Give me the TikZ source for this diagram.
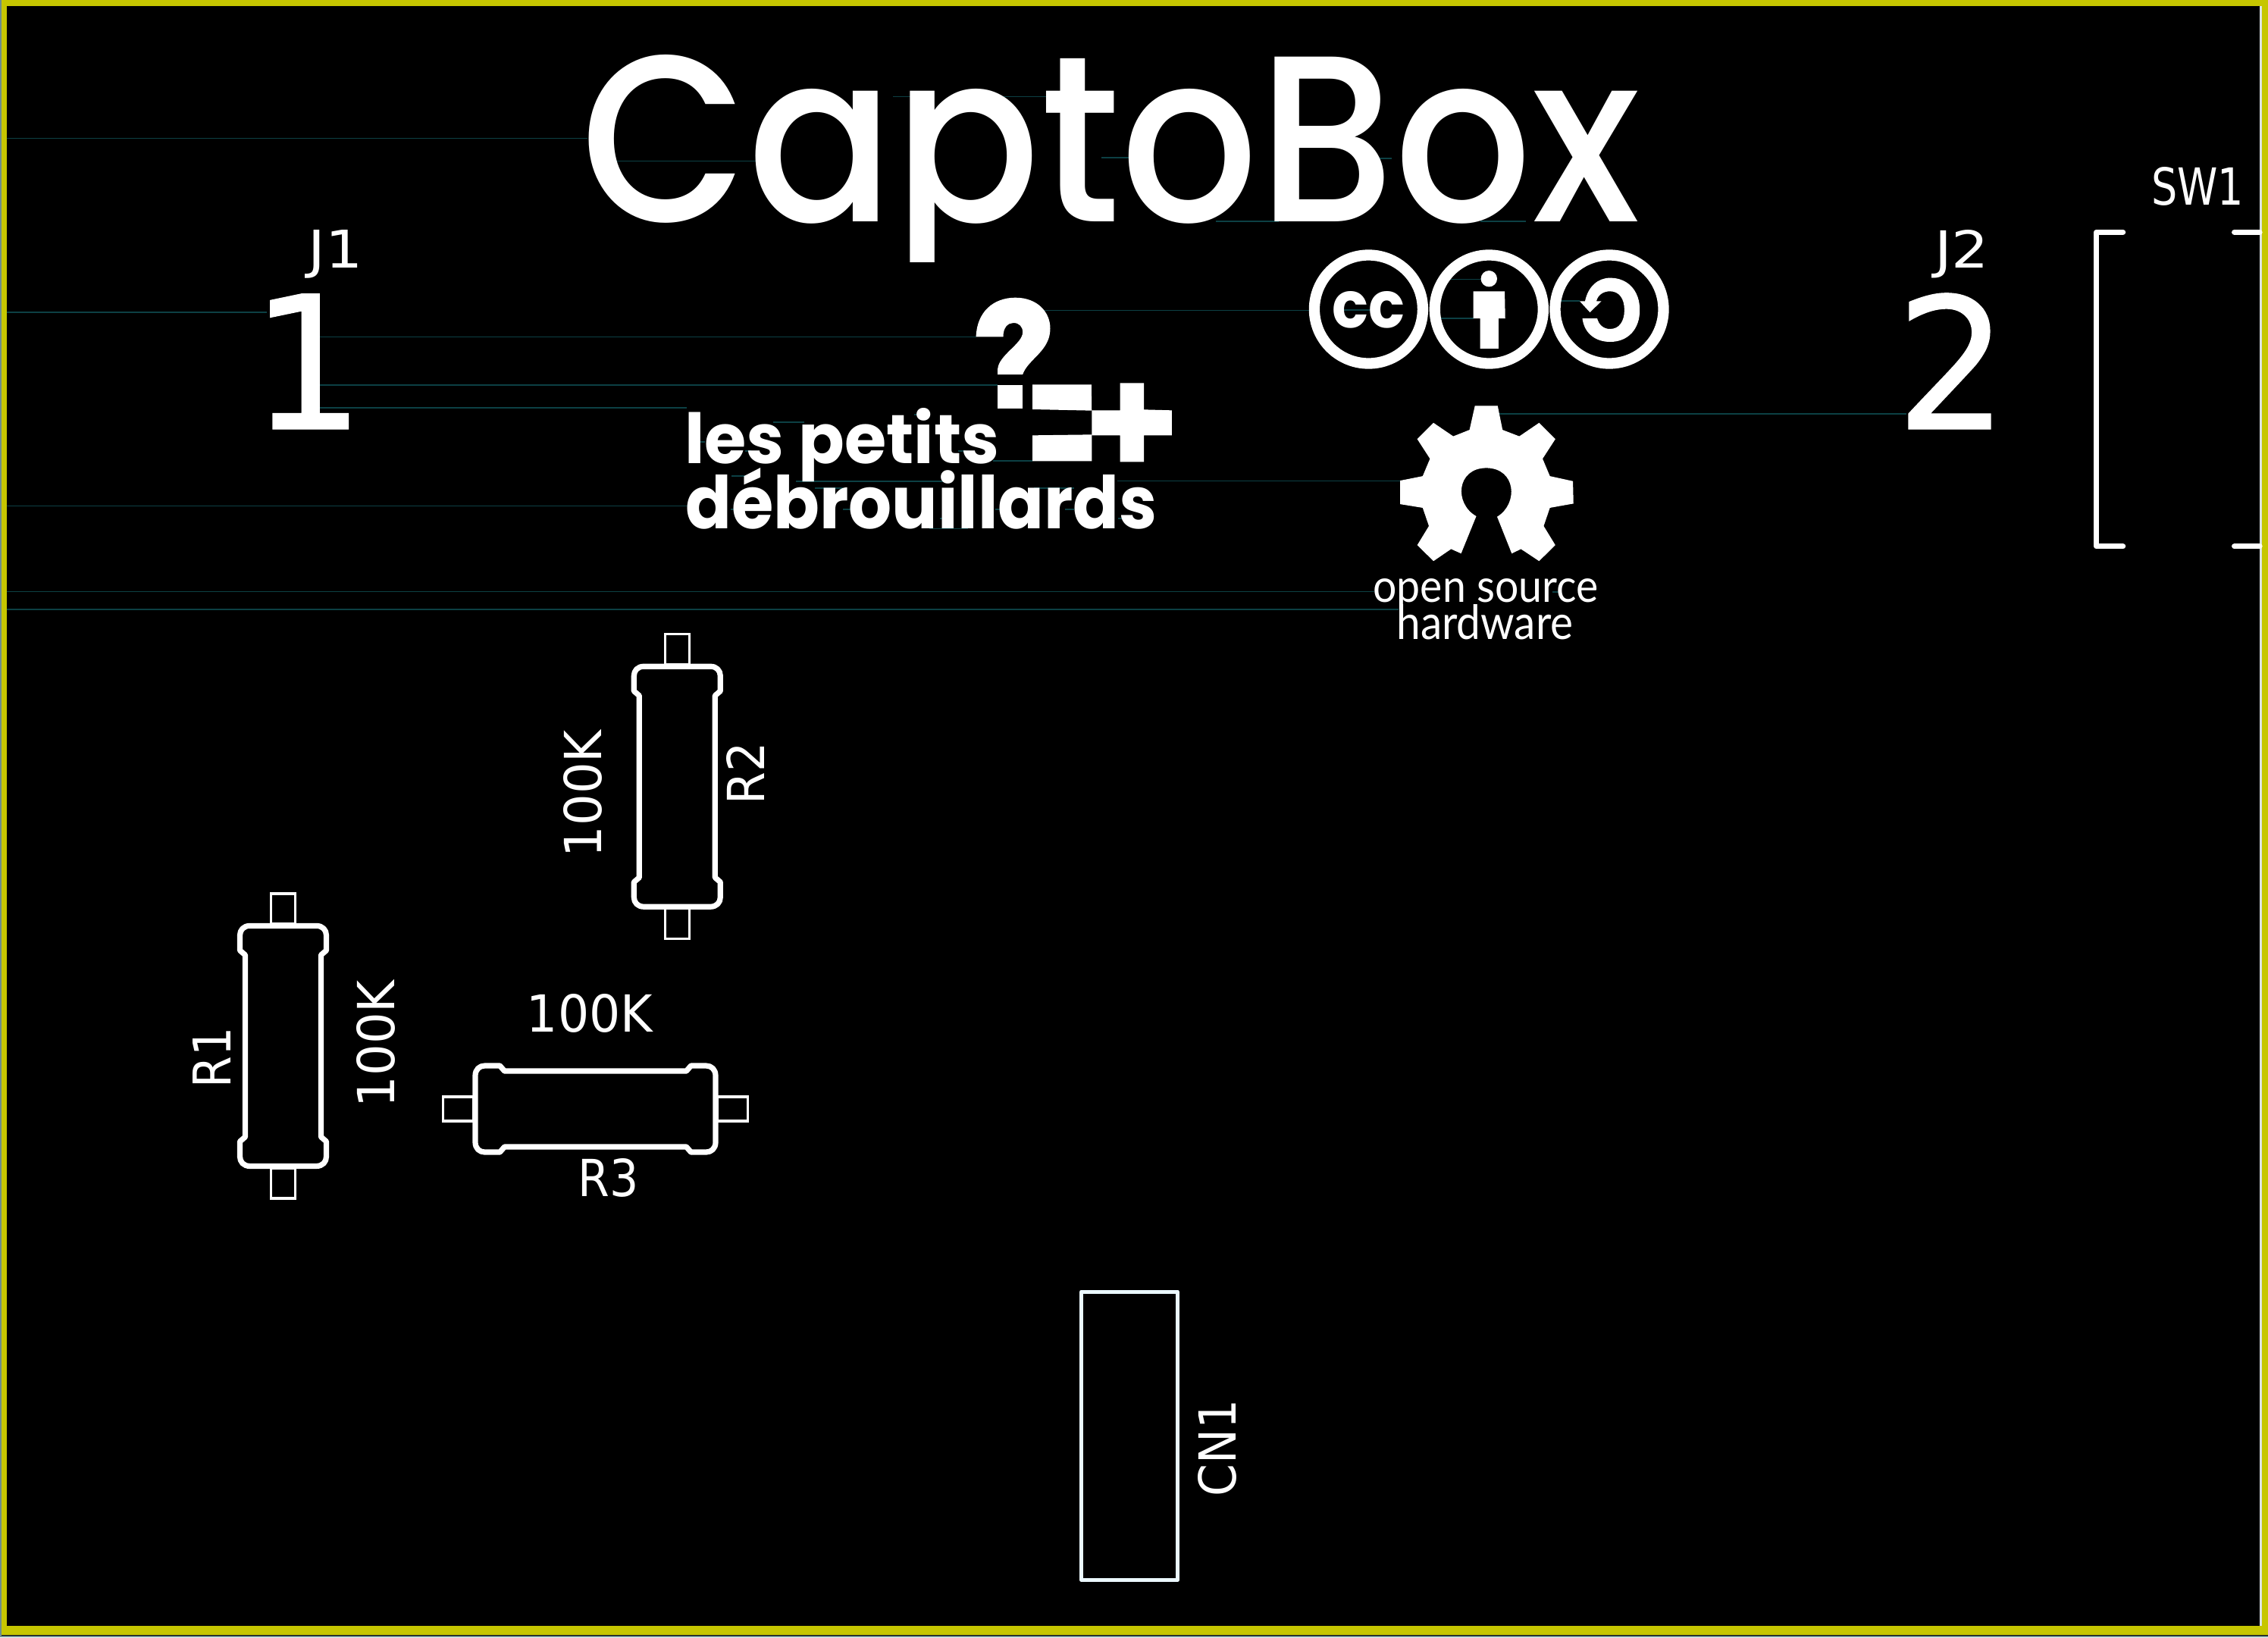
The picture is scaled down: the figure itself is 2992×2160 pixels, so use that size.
\documentclass[tikz,border=0pt]{standalone}
\usepackage{graphicx}
\usepackage{fontspec}
\newfontfamily\pop{Poppins}
\newfontfamily\popm{Poppins Medium}
\newfontfamily\djv{DejaVu Sans}
\newfontfamily\djb[FakeBold=0.6]{DejaVu Sans}
\newfontfamily\lat{Lato}
\definecolor{brd}{HTML}{C6C600}
\definecolor{trc}{HTML}{0C4044}
\tikzset{
  x=0.01cm,y=-0.01cm,
  lbl/.style={inner sep=0pt,outer sep=0pt,text=white,anchor=base},
  trace/.style={draw=trc,line width=0.16mm},
  silk/.style={draw=white,line width=0.72mm,line join=round,line cap=round},
  thinsilk/.style={draw=white,line width=0.34mm,line join=miter},
  logo/.style={fill=white,draw=none}
}
\newcommand{\fitt}[3]{\resizebox{#1cm}{#2cm}{#3}}
\newcommand{\resistor}[3]{%
  \begin{scope}[shift={(#1,#2)},rotate=#3]
    \draw[thinsilk] (-16,-201) rectangle (16,-161);
    \draw[thinsilk] (-16,161) rectangle (16,201);
    \draw[silk] (-44,-158.5) -- (44,-158.5) .. controls (52,-158.5) and (57,-153) .. (57,-146) -- (57,-126) -- (50,-120) -- (50,120) -- (57,126) -- (57,146) .. controls (57,153) and (52,158.5) .. (44,158.5) -- (-44,158.5) .. controls (-52,158.5) and (-57,153) .. (-57,146) -- (-57,126) -- (-50,120) -- (-50,-120) -- (-57,-126) -- (-57,-146) .. controls (-57,-153) and (-52,-158.5) .. (-44,-158.5) -- cycle;
  \end{scope}}
\begin{document}
\begin{tikzpicture}
\useasboundingbox (0,0) rectangle (2992,2160);
\fill[black] (0,0) rectangle (2992,2160);
% board edge
\fill[brd] (2,0) rectangle (2992,2157);
\fill[black] (9,8) rectangle (2984,2145);
\fill[trc!60!white] (0,0) rectangle (1.8,2160);
\fill[trc!60!white] (0,2158) rectangle (2992,2160);
\draw[draw=white!85!trc,line width=0.25mm] (2982.5,8) -- (2982.5,2145);
% traces
\foreach \yy/\a/\b in {182.3/9/775, 212.3/813/1006, 127.3/1178/1213, 127.3/1322/1400, 208/1453/1489, 209/1818/1836, 292/1604/1687, 292/1953/2013,
  411.8/9/352, 444.3/420/1288, 508.2/420/1316, 538.2/420/906, 667.6/9/907, 780.4/9/1813, 804/9/1845,
  409.3/1377/1727, 409/1762/1812, 368.4/1912/1954, 420/1900/1944, 397/2059/2084, 546/1978/2515, 634.5/1474/1847,
  556.7/1020/1061, 547/1206/1220, 562.7/1170/1189, 582.7/922/930, 595/983/991, 595/1264/1274, 608/1310/1362,
  628/965/988, 635/1050/1247, 644/1075/1112, 644/1364/1417, 672/964/974, 672/1112/1130, 672/1313/1323, 672/1405/1417,
  684/1240/1250, 684/1475/1485, 697.3/1226/1277, 781/2048/2060}
  {\draw[trace] (\a,\yy) -- (\b,\yy);}
% title
\node[lbl] (title) at (1465,292) {\fitt{13.95}{2.2}{\popm CaptoBox}};
\fill[black] (1200,346) rectangle (1270,390);
% la logo
\begin{scope}[shift={(850,340)},x=0.01cm/2.063,y=-0.01cm/3]
  \fill[logo] (903,313) .. controls (905,215) and (950,158) .. (1010,158) .. controls (1070,158) and (1105,215) .. (1105,280) .. controls (1105,370) and (1045,400) .. (1030,462) -- (962,462) -- (962,440) .. controls (965,385) and (1030,340) .. (1030,295) .. controls (1030,272) and (1020,258) .. (1005,258) .. controls (990,258) and (977,275) .. (977,313) -- cycle;
  \fill[logo] (962,505) rectangle (1030,598);
  \fill[logo] (1057,502) -- (1217,502) -- (1218,605) -- (1057,600) -- cycle;
  \fill[logo] (1057,703) -- (1218,700) -- (1218,805) -- (1057,805) -- cycle;
  \fill[logo] (1295,496) -- (1360,496) -- (1360,601) -- (1436,604) -- (1436,703) -- (1360,703) -- (1360,808) -- (1295,808) -- (1295,703) -- (1218,703) -- (1218,604) -- (1295,604) -- cycle;
\end{scope}
\node[lbl] (lp) at (1111,611) {\fitt{4.15}{0.73}{\pop\bfseries les petits}};
\node[lbl] (ld) at (1215.5,697) {\fitt{6.22}{0.80}{\pop\bfseries débrouillards}};
% cc logos
\foreach \cx in {1805.4,1964.3,2123}
  {\draw[draw=white,line width=1.43mm] (\cx,408) circle (71.5);}
\node[lbl] (cc) at (1805,432) {\fitt{0.96}{0.48}{\pop\bfseries cc}};
\fill[logo] (1964.3,367.7) circle (10.7);
\begin{scope}[shift={(1700,300)},x=0.01cm/2.8,y=-0.01cm/2.703]
  \fill[logo] (682,228) -- (798,228) -- (800,325) -- (775,325) -- (775,432) -- (707,432) -- (707,325) -- (682,325) -- cycle;
  % gear
  \fill[logo] (688,636) -- (772,636) -- (790,722) -- (852,745) -- (925,697) -- (985,755) -- (938,825) -- (965,887) -- (1050,905) -- (1052,985) -- (965,1000) -- (942,1065) -- (985,1133) -- (925,1190) -- (858,1147) -- (824,1163) -- (770,1032) .. controls (850,985) and (840,858) .. (730,858) .. controls (620,858) and (610,985) .. (693,1030) -- (637,1163) -- (600,1147) -- (535,1190) -- (475,1133) -- (518,1065) -- (495,1000) -- (412,987) -- (412,903) -- (495,887) -- (522,825) -- (475,755) -- (535,697) -- (608,745) -- (668,722) -- cycle;
\end{scope}
\fill[logo] (2087.5,420.2) .. controls (2090,440) and (2105,451) .. (2124,451) .. controls (2148,451) and (2163.2,434) .. (2163.2,409) .. controls (2163.2,384) and (2148,366.6) .. (2124,366.6) .. controls (2108,366.6) and (2095,378) .. (2091,397.3) -- (2083.9,397.3) -- (2097.5,412.1) -- (2112.5,397.3) -- (2106,397.3) .. controls (2108,389) and (2115,384.3) .. (2124,384.3) .. controls (2136,384.3) and (2142.9,394) .. (2142.9,409) .. controls (2142.9,424) and (2136,434) .. (2124,434) .. controls (2115,434) and (2109,428) .. (2107.1,420.2) -- cycle;
\node[lbl] (os) at (1960,794) {\fitt{2.97}{0.31}{\lat open source}};
\node[lbl] (hw) at (1959,843) {\fitt{2.33}{0.46}{\lat hardware}};
% J1, J2
\node[lbl] (big1) at (406,566) {\fitt{1.5}{1.78}{\djb 1}};
\node[lbl] (big2) at (2575,566) {\fitt{1.48}{1.79}{\djb 2}};
\node[lbl] (j1) at (443,353.6) {\fitt{0.72}{0.5}{\djv J1}};
\node[lbl] (j2) at (2588,353) {\fitt{0.72}{0.5}{\djv J2}};
% SW1
\node[lbl] (sw) at (2899,270.7) {\fitt{1.22}{0.5}{\djv SW1}};
\draw[silk] (2800.6,306.3) -- (2765.5,306.3) -- (2765.5,720.8) -- (2800.6,720.8);
\draw[silk] (2947.6,306.3) -- (2981,306.3);
\draw[silk] (2947.6,720.8) -- (2981,720.8);
% resistors
\resistor{373.5}{1379.9}{0}
\resistor{893.3}{1037.7}{0}
\resistor{785.5}{1463}{90}
\node[lbl,rotate=90] (r1) at (304.6,1395.7) {\fitt{0.8}{0.5}{\djv R1}};
\node[lbl,rotate=90] (r1v) at (520,1377) {\fitt{1.68}{0.5}{\djv 100K}};
\node[lbl,rotate=90] (r2) at (1008.4,1020) {\fitt{0.82}{0.5}{\djv R2}};
\node[lbl,rotate=90] (r2v) at (793,1047) {\fitt{1.68}{0.5}{\djv 100K}};
\node[lbl] (r3) at (803,1578) {\fitt{0.8}{0.5}{\djv R3}};
\node[lbl] (r3v) at (778,1361) {\fitt{1.66}{0.5}{\djv 100K}};
% CN1
\draw[draw=white!92!cyan,line width=0.5mm,line join=round] (1426.7,1704) rectangle (1553.3,2084.3);
\node[lbl,rotate=90] (cn) at (1630,1910) {\fitt{1.28}{0.5}{\djv CN1}};
\end{tikzpicture}
\end{document}
